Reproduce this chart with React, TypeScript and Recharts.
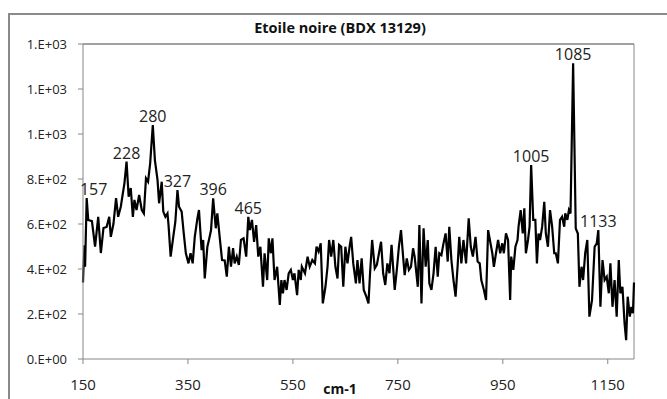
import React from 'react'
import { LineChart, Line, XAxis, YAxis, ReferenceDot, ReferenceLine } from 'recharts'

// Raman spectrum
const WAVENUMBERS = [
  150, 151, 153, 154, 157, 160, 167, 173, 179, 184, 189, 195, 200, 203, 208, 213, 217, 222, 226, 229,
  233, 237, 241, 245, 248, 252, 257, 262, 266, 270, 274, 278, 283, 287, 292, 295, 300, 303, 307, 311,
  313, 317, 322, 326, 330, 333, 338, 342, 346, 351, 355, 359, 363, 368, 371, 376, 379, 382, 387, 390,
  394, 398, 403, 406, 411, 415, 420, 424, 428, 432, 436, 439, 443, 447, 451, 456, 461, 465, 468, 472,
  476, 480, 484, 488, 493, 496, 501, 504, 508, 511, 515, 520, 525, 528, 531, 534, 538, 542, 546, 550,
  553, 558, 561, 565, 567, 573, 578, 582, 587, 592, 595, 599, 603, 607, 612, 616, 619, 623, 627, 631,
  635, 638, 642, 646, 650, 654, 658, 661, 665, 670, 673, 677, 681, 685, 690, 694, 697, 701, 706, 710,
  714, 718, 722, 726, 730, 734, 738, 744, 748, 752, 756, 760, 763, 767, 771, 775, 779, 782, 788, 791,
  795, 799, 803, 807, 810, 814, 818, 822, 826, 829, 833, 837, 841, 845, 848, 852, 856, 860, 864, 867,
  871, 875, 880, 885, 889, 893, 898, 902, 906, 909, 914, 918, 922, 930, 933, 937, 941, 945, 949, 952,
  956, 960, 964, 966, 970, 974, 978, 980, 984, 988, 991, 994, 998, 1001, 1004, 1008, 1012, 1015, 1018, 1021,
  1025, 1029, 1032, 1036, 1040, 1044, 1048, 1051, 1055, 1059, 1063, 1067, 1069, 1073, 1076, 1079, 1084, 1089, 1093,
  1096, 1100, 1103, 1107, 1111, 1115, 1120, 1125, 1129, 1132, 1136, 1140, 1144, 1148, 1152, 1155, 1159, 1163, 1167, 1171,
  1174, 1178, 1182, 1185, 1188, 1192, 1195, 1198, 1200,
]

const INTENSITY = [
  340, 410, 505, 410, 715, 618, 613, 499, 632, 471, 582, 587, 632, 543, 600, 715, 632, 677, 737, 782,
  877, 721, 760, 632, 707, 662, 729, 662, 647, 803, 788, 870, 1040, 884, 796, 692, 788, 655, 632, 647,
  595, 455, 543, 610, 751, 677, 655, 558, 470, 425, 470, 425, 543, 625, 662, 484, 529, 358, 499, 529,
  573, 714, 581, 647, 529, 440, 438, 366, 499, 410, 493, 425, 455, 418, 529, 536, 455, 632, 573, 618,
  521, 595, 455, 499, 321, 470, 351, 536, 470, 536, 351, 410, 240, 351, 292, 351, 307, 381, 396, 351,
  381, 284, 396, 351, 410, 381, 455, 410, 440, 425, 499, 477, 514, 247, 321, 410, 529, 455, 529, 410,
  358, 507, 499, 321, 499, 425, 499, 543, 425, 336, 440, 336, 447, 307, 277, 247, 381, 529, 403, 418,
  470, 521, 381, 329, 425, 381, 507, 307, 396, 499, 573, 455, 373, 447, 396, 410, 492, 455, 321, 595,
  247, 581, 410, 529, 336, 307, 381, 499, 366, 470, 462, 514, 558, 433, 588, 440, 351, 277, 418, 543,
  425, 529, 425, 625, 499, 455, 543, 433, 425, 351, 307, 262, 573, 470, 410, 470, 529, 470, 514, 470,
  558, 529, 262, 455, 396, 499, 529, 588, 662, 558, 670, 470, 529, 588, 862, 618, 618, 425, 558, 529,
  588, 699, 558, 499, 662, 588, 470, 470, 425, 618, 632, 588, 647, 618, 662, 647, 1314, 580, 558,
  321, 410, 351, 470, 529, 188, 262, 499, 514, 573, 232, 440, 351, 366, 292, 425, 232, 351, 188, 440,
  292, 321, 159, 84, 277, 188, 232, 203, 340,
]

const PEAK_LABELS = [157, 228, 280, 327, 396, 465, 1005, 1085, 1133]

const X_TICKS = [150, 350, 550, 750, 950, 1150]
const Y_TICKS = [0, 200, 400, 600, 800, 1000, 1200, 1400]
const Y_TICK_LABELS = ['0.E+00', '2.E+02', '4.E+02', '6.E+02', '8.E+02', '1.E+03', '1.E+03', '1.E+03']

const data = WAVENUMBERS.map((x, i) => ({ x, y: INTENSITY[i] }))

const FONT = '"Open Sans", Lato, sans-serif'
const AXIS_GREY = '#868686'

// highest point within a few cm-1 of the labelled position
function peakPoint(p: number) {
  let best = data[0]
  let bestVal = -1
  for (const d of data) {
    if (Math.abs(d.x - p) <= 8 && d.y > bestVal) {
      best = d
      bestVal = d.y
    }
  }
  return best
}

function PeakLabel(props: any) {
  const { viewBox, text, nudge } = props
  if (!viewBox) return null
  const cx = viewBox.x + (viewBox.width || 0) / 2
  return (
    <text
      x={cx + (nudge || 0)}
      y={viewBox.y - 3}
      textAnchor="middle"
      fill="#222"
      fontSize={16}
      fontFamily={FONT}
    >
      {text}
    </text>
  )
}

export default function App() {
  return (
    <div
      style={{
        position: 'absolute',
        left: 0,
        top: 0,
        width: 667,
        height: 399,
        overflow: 'hidden',
        background: '#fff',
        fontFamily: FONT,
      }}
    >
      <div
        style={{
          position: 'absolute',
          left: 8,
          top: 13,
          width: 700,
          height: 500,
          borderLeft: '2px solid #8a8a8a',
          borderTop: '2px solid #8a8a8a',
        }}
      />
      <div
        style={{
          position: 'absolute',
          left: 0,
          width: 680,
          top: 18,
          textAlign: 'center',
          fontWeight: 700,
          fontSize: 14.5,
          lineHeight: '20px',
          color: '#111',
        }}
      >
        Etoile noire (BDX 13129)
      </div>
      <div style={{ position: 'absolute', left: 0, top: 0 }}>
        <LineChart
          width={667}
          height={399}
          data={data}
          margin={{ top: 44, right: 33, bottom: 10, left: 0 }}
        >
          <XAxis
            dataKey="x"
            type="number"
            domain={[150, 1200]}
            ticks={X_TICKS}
            height={30}
            tickSize={5}
            tickMargin={15}
            stroke={AXIS_GREY}
            tick={{ fill: '#222', fontSize: 15, fontFamily: FONT }}
          />
          <YAxis
            type="number"
            domain={[0, 1400]}
            ticks={Y_TICKS}
            width={83}
            tickSize={5}
            tickMargin={11}
            stroke={AXIS_GREY}
            tickFormatter={(_v: number, i: number) => Y_TICK_LABELS[i]}
            tick={{ fill: '#222', fontSize: 13, fontFamily: FONT }}
          />
          <ReferenceLine y={1400} stroke="#444" strokeWidth={1} />
          <ReferenceLine x={1200} stroke="#888" strokeWidth={1} />
          <Line
            type="linear"
            dataKey="y"
            stroke="#000"
            strokeWidth={2.2}
            dot={false}
            isAnimationActive={false}
          />
          {PEAK_LABELS.map((p) => {
            const pt = peakPoint(p)
            return (
              <ReferenceDot
                key={p}
                x={pt.x}
                y={pt.y}
                r={0}
                fill="none"
                stroke="none"
                label={<PeakLabel text={String(p)} nudge={p === 157 ? 7 : 0} />}
              />
            )
          })}
        </LineChart>
      </div>
      <div
        style={{
          position: 'absolute',
          left: 0,
          width: 680,
          top: 381,
          textAlign: 'center',
          fontWeight: 700,
          fontSize: 14,
          lineHeight: '15px',
          color: '#111',
        }}
      >
        cm-1
      </div>
    </div>
  )
}
